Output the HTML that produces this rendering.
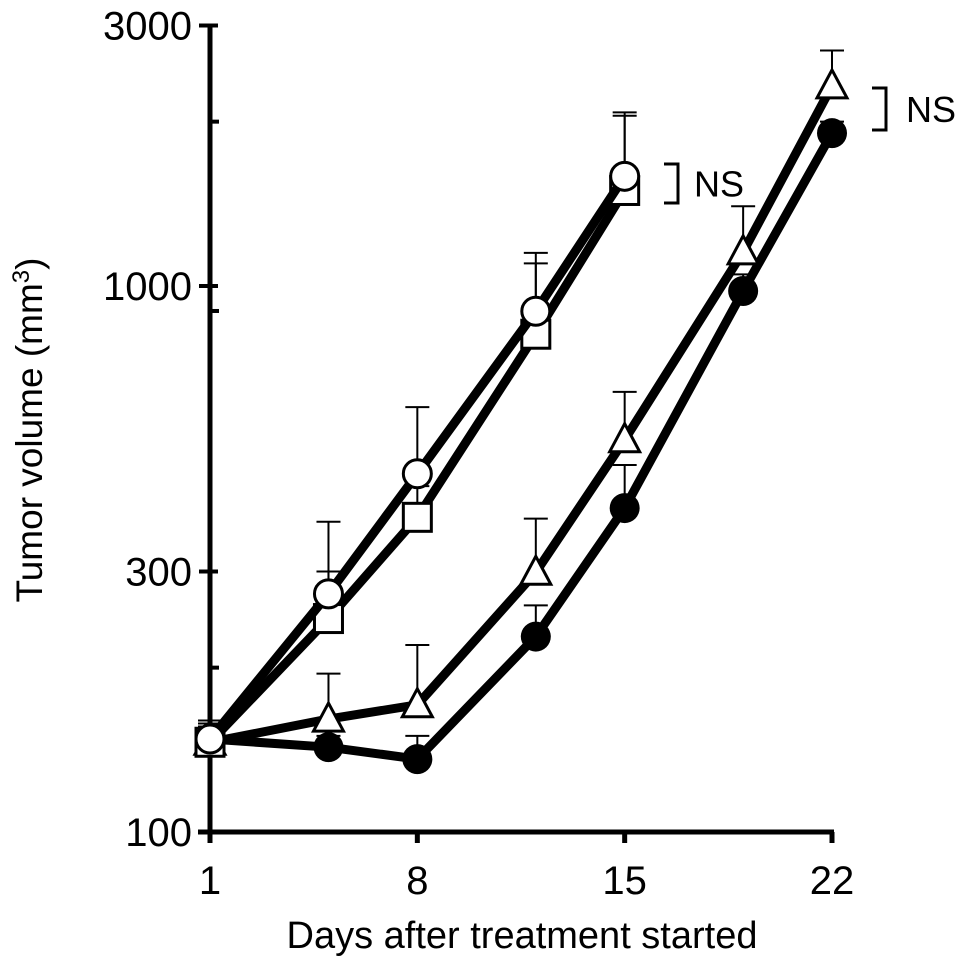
<!DOCTYPE html>
<html><head><meta charset="utf-8"><style>body{margin:0;background:#fff}svg{display:block}text{font-family:"Liberation Sans",Arial,sans-serif;fill:#000}</style></head>
<body>
<svg id="chart" width="969" height="967" viewBox="0 0 969 967"></svg>
<script>
const days1=[1,5,8,12,15];
const days2=[1,5,8,12,15,19,22];
const circleVals=[148,273,453,899,1588];
const circleErr=[160,370,600,1150,2080];
const squareVals=[146,246,377,816,1496];
const squareErr=[158,300,430,1100,2050];
const triVals=[146,161,171,299,523,1155,2325];
const triErr=[156,195,220,375,640,1400,2700];
const filledVals=[148,143,136,228,392,979,1905];
const filledErr=[154,150,150,260,470,1050,2000];
const yTicks=[100,300,1000,3000];
const yMinor=[200,900,2000];
const xTicks=[1,8,15,22];
const NS="http://www.w3.org/2000/svg";
const svg=document.getElementById('chart');
const X=d=>210+(d-1)*(622/21);
const Y=v=>832-(Math.log10(v)-2)*546;
function el(t,a,p){const e=document.createElementNS(NS,t);for(const k in a)e.setAttribute(k,a[k]);(p||svg).appendChild(e);return e;}
const ax=el('line',{x1:210,y1:25,x2:210,y2:834,stroke:'#000','stroke-width':5});


const bx=el('line',{x1:198,y1:832,x2:834,y2:832,stroke:'#000','stroke-width':5});


yTicks.forEach(v=>{
 const t=el('line',{x1:199,y1:Y(v),x2:218,y2:Y(v),stroke:'#000','stroke-width':4});
 
 
 const l=el('text',{x:192,y:Y(v)+14,'text-anchor':'end','font-size':40});l.textContent=v;
 
 
});
yMinor.forEach(v=>{
 const t=el('line',{x1:210,y1:Y(v),x2:219,y2:Y(v),stroke:'#000','stroke-width':4});
 
 
});
xTicks.forEach(d=>{
 const t=el('line',{x1:X(d),y1:832,x2:X(d),y2:843,stroke:'#000','stroke-width':5});
 
 
 const l=el('text',{x:X(d),y:894,'text-anchor':'middle','font-size':40});l.textContent=d;
 
 
});
const xt=el('text',{x:522,y:948,'text-anchor':'middle','font-size':38});xt.textContent='Days after treatment started';


const yt=el('text',{x:0,y:0,'text-anchor':'middle','font-size':37,transform:'translate(42,430) rotate(-90)'});
yt.innerHTML='Tumor volume (mm<tspan dy="-13" font-size="24">3</tspan><tspan dy="13">)</tspan>';


function series(name,days,vals,errs,marker){
 const g=el('g',{});
 
 
 days.forEach((d,i)=>{
  const x=X(d);
  el('line',{x1:x,y1:Y(vals[i]),x2:x,y2:Y(errs[i]),stroke:'#000','stroke-width':2},g);
  el('line',{x1:x-12,y1:Y(errs[i]),x2:x+12,y2:Y(errs[i]),stroke:'#000','stroke-width':2},g);
 });
 el('polyline',{points:days.map((d,i)=>X(d)+','+Y(vals[i])).join(' '),fill:'none',stroke:'#000','stroke-width':9,'stroke-linejoin':'round'},g);
 days.forEach((d,i)=>{
  const x=X(d),y=Y(vals[i]);let m;
  if(marker==='circle')m=el('circle',{cx:x,cy:y,r:14,fill:'#fff',stroke:'#000','stroke-width':3},g);
  else if(marker==='filled')m=el('circle',{cx:x,cy:y,r:15,fill:'#000'},g);
  else if(marker==='square')m=el('rect',{x:x-14,y:y-14,width:28,height:28,fill:'#fff',stroke:'#000','stroke-width':3},g);
  else m=el('polygon',{points:`${x},${y-16} ${x+15},${y+12} ${x-15},${y+12}`,fill:'#fff',stroke:'#000','stroke-width':3},g);
  
  
 });
}
series('filled-circle-series',days2,filledVals,filledErr,'filled');
series('triangle-series',days2,triVals,triErr,'tri');
series('square-series',days1,squareVals,squareErr,'square');
series('circle-series',days1,circleVals,circleErr,'circle');
function ns(x,y1,y2,tx){
 const b=el('polyline',{points:`${x},${y1} ${x+14},${y1} ${x+14},${y2} ${x},${y2}`,fill:'none',stroke:'#000','stroke-width':3});
 
 
 const t=el('text',{x:tx,y:(y1+y2)/2+13,'font-size':36});t.textContent='NS';
 
 
}
ns(664,164,203,694);
ns(872,88,130,906);
</script>
</body></html>
